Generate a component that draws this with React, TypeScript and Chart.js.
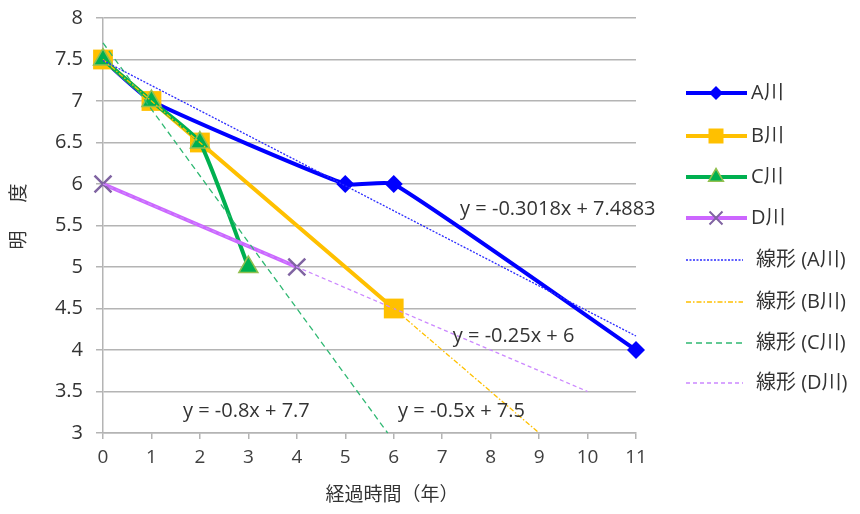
import React, { useEffect, useRef } from "react";
import { Chart, registerables } from "chart.js";
Chart.register(...registerables);

const FONT = "'Open Sans', 'Noto Sans CJK JP', sans-serif";

const seriesNames = ["A川", "B川", "C川", "D川"];
const aX = [0, 1, 5, 6, 11];
const aY = [7.5, 7, 6, 6, 4];
const bX = [0, 1, 2, 6];
const bY = [7.5, 7, 6.5, 4.5];
const cX = [0, 1, 2, 3];
const cY = [7.5, 7, 6.5, 5];
const dX = [0, 4];
const dY = [6, 5];

const trendNames = ["線形 (A川)", "線形 (B川)", "線形 (C川)", "線形 (D川)"];
const trendSlopes = [-0.3018, -0.5, -0.8, -0.25];
const trendIntercepts = [7.4883, 7.5, 7.7, 6];
const trendXStart = [0, 0, 0, 0];
const trendXEnd = [11, 9, 5.875, 10];
const equationTexts = ["y = -0.3018x + 7.4883", "y = -0.5x + 7.5", "y = -0.8x + 7.7", "y = -0.25x + 6"];

const xTitle = "経過時間（年）";
const yTitleChars = ["明", "度"];

const seriesColors = ["#0000FF", "#FFC000", "#00B050", "#CC66FF"];
const markerFill = ["#0000FF", "#FFC000", "#00B050", "#8064A2"];
const markerBorder = ["#0000FF", "#FFC000", "#92C050", "#8064A2"];
const markerStyles = ["rectRot", "rect", "triangle", "crossRot"];
const markerRadius = [9, 14, 11, 12];
const legendMarkerSize = [7, 7.5, 8.5, 6.5];
const trendColors = ["#2a2aff", "#FFC000", "#2fb872", "#cc88ff"];
const trendDashes = [[2, 1.5], [5, 2, 1.5, 2], [6, 4], [4, 3]];

// label anchors (data coordinates: left, middle)
const eqAnchors = [
  [7.37, 5.69],
  [6.09, 3.265],
  [1.65, 3.265],
  [7.22, 4.17],
];

function toPts(xs: number[], ys: number[]) {
  return xs.map((x, i) => ({ x, y: ys[i] }));
}

function drawMarker(ctx: CanvasRenderingContext2D, style: string, x: number, y: number, r: number, fill: string, stroke: string) {
  ctx.save();
  ctx.fillStyle = fill;
  ctx.strokeStyle = stroke;
  ctx.lineWidth = 1.5;
  ctx.beginPath();
  if (style === "rectRot") {
    ctx.moveTo(x, y - r);
    ctx.lineTo(x + r, y);
    ctx.lineTo(x, y + r);
    ctx.lineTo(x - r, y);
    ctx.closePath();
    ctx.fill();
  } else if (style === "rect") {
    ctx.rect(x - r, y - r, 2 * r, 2 * r);
    ctx.fill();
  } else if (style === "triangle") {
    ctx.moveTo(x, y - r);
    ctx.lineTo(x + r * 0.87, y + r * 0.5);
    ctx.lineTo(x - r * 0.87, y + r * 0.5);
    ctx.closePath();
    ctx.fill();
    ctx.stroke();
  } else {
    ctx.lineWidth = 2;
    ctx.moveTo(x - r, y - r);
    ctx.lineTo(x + r, y + r);
    ctx.moveTo(x + r, y - r);
    ctx.lineTo(x - r, y + r);
    ctx.stroke();
  }
  ctx.restore();
}

const overlayPlugin = {
  id: "overlay",
  afterDraw(chart: any) {
    const ctx: CanvasRenderingContext2D = chart.ctx;
    const xs = chart.scales.x;
    const ys = chart.scales.y;
    ctx.save();
    // equation labels
    ctx.font = `20px ${FONT}`;
    ctx.fillStyle = "#333333";
    ctx.textBaseline = "middle";
    ctx.textAlign = "left";
    equationTexts.forEach((t, i) => {
      ctx.fillText(t, xs.getPixelForValue(eqAnchors[i][0]), ys.getPixelForValue(eqAnchors[i][1]));
    });
    // axis titles
    ctx.font = `19px ${FONT}`;
    ctx.fillStyle = "#333333";
    ctx.textAlign = "center";
    ctx.fillText(xTitle, 392, 496);
    const yPos = [240, 193];
    yTitleChars.forEach((c, i) => {
      ctx.save();
      ctx.translate(20, yPos[i]);
      ctx.rotate(-Math.PI / 2);
      ctx.fillText(c, 0, 0);
      ctx.restore();
    });
    // legend
    const seriesRows = [93, 136, 177, 218];
    const trendRows = [260, 302, 343, 383];
    ctx.textAlign = "left";
    ctx.font = `20px ${FONT}`;
    seriesNames.forEach((n, i) => {
      const y = seriesRows[i];
      ctx.save();
      ctx.strokeStyle = seriesColors[i];
      ctx.lineWidth = 4;
      ctx.beginPath();
      ctx.moveTo(686, y);
      ctx.lineTo(747, y);
      ctx.stroke();
      ctx.restore();
      drawMarker(ctx, markerStyles[i], 716, y, legendMarkerSize[i], markerFill[i], markerBorder[i]);
      ctx.fillStyle = "#333333";
      ctx.fillText(n, 751, y);
    });
    trendNames.forEach((n, i) => {
      const y = trendRows[i];
      ctx.save();
      ctx.strokeStyle = trendColors[i];
      ctx.lineWidth = 1.3;
      ctx.setLineDash(trendDashes[i]);
      ctx.beginPath();
      ctx.moveTo(686, y);
      ctx.lineTo(743, y);
      ctx.stroke();
      ctx.restore();
      ctx.fillStyle = "#333333";
      ctx.fillText(n, 756, y);
    });
    ctx.restore();
  },
};

export default function App() {
  const ref = useRef<HTMLCanvasElement>(null);
  useEffect(() => {
    document.body.style.margin = "0";
    const seriesData = [toPts(aX, aY), toPts(bX, bY), toPts(cX, cY), toPts(dX, dY)];
    const datasets: any[] = [];
    seriesNames.forEach((n, i) => {
      datasets.push({
        label: n,
        data: seriesData[i],
        borderColor: seriesColors[i],
        backgroundColor: markerFill[i],
        borderWidth: 4,
        tension: 0.15,
        pointStyle: markerStyles[i],
        pointRadius: markerRadius[i],
        pointBackgroundColor: markerFill[i],
        pointBorderColor: markerBorder[i],
        pointBorderWidth: i === 3 ? 2.5 : i === 2 ? 1.5 : 0,
        clip: false,
        order: 10 - i,
      });
    });
    trendNames.forEach((n, i) => {
      const x0 = trendXStart[i];
      const x1 = trendXEnd[i];
      datasets.push({
        label: n,
        data: [
          { x: x0, y: trendSlopes[i] * x0 + trendIntercepts[i] },
          { x: x1, y: trendSlopes[i] * x1 + trendIntercepts[i] },
        ],
        borderColor: trendColors[i],
        borderWidth: 1.3,
        borderDash: trendDashes[i],
        pointRadius: 0,
        clip: false,
        order: 1,
      });
    });
    const chart = new Chart(ref.current!, {
      type: "line",
      data: { datasets },
      options: {
        animation: false,
        responsive: false,
        maintainAspectRatio: false,
        layout: { padding: { left: 0, right: 224, top: 18, bottom: 0 } },
        plugins: { legend: { display: false }, tooltip: { enabled: false } },
        scales: {
          x: {
            type: "linear",
            min: 0,
            max: 11,
            ticks: { stepSize: 1, color: "#404040", font: { size: 19, family: FONT }, padding: 7 },
            grid: { drawOnChartArea: false, drawTicks: true, tickLength: 6, color: "#b4b4b4", lineWidth: 1.5 },
            border: { color: "#b4b4b4", width: 1.5 },
            afterFit: (s: any) => {
              s.height = 81;
              s.paddingLeft = 0;
              s.paddingRight = 0;
            },
          },
          y: {
            type: "linear",
            min: 3,
            max: 8,
            ticks: {
              stepSize: 0.5,
              color: "#333333",
              font: { size: 20, family: FONT },
              padding: 13,
              callback: (v: any) => String(Number(v)),
            },
            grid: { color: "#b4b4b4", lineWidth: 1.5, tickLength: 7 },
            border: { color: "#b4b4b4", width: 1.5 },
            afterFit: (s: any) => {
              s.width = 103;
              s.paddingTop = 0;
              s.paddingBottom = 0;
            },
          },
        },
      },
      plugins: [overlayPlugin],
    });
    return () => chart.destroy();
  }, []);
  return (
    <div style={{ width: 860, height: 514 }}>
      <canvas ref={ref} width={860} height={514} style={{ display: "block" }} />
    </div>
  );
}
